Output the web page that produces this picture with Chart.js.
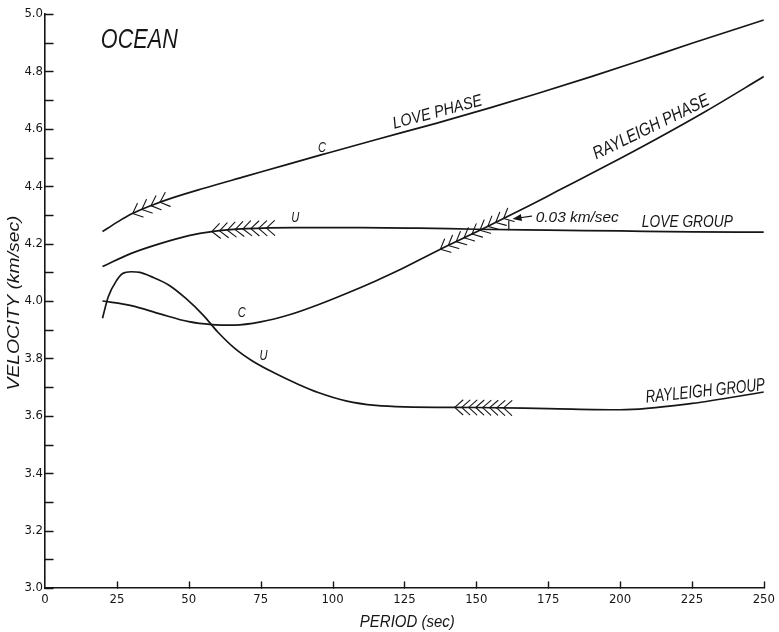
<!DOCTYPE html>
<html>
<head>
<meta charset="utf-8">
<script src="https://cdn.jsdelivr.net/npm/chart.js@4.4.1/dist/chart.umd.min.js"></script>
<style>
html,body{margin:0;padding:0;background:#fff;}
#wrap{width:779px;height:632px;position:relative;}
canvas{display:block;}
</style>
</head>
<body>
<div id="wrap"><canvas id="c" width="779" height="632" style="width:779px;height:632px"></canvas></div>
<script>
// ---- Data (period in sec, velocity in km/sec) ----
const seriesNames = ['LOVE PHASE', 'LOVE GROUP', 'RAYLEIGH PHASE', 'RAYLEIGH GROUP'];

const lovePhasePeriod = [20, 25, 30, 37, 43, 55, 70, 85, 96, 115, 136, 155, 171, 190, 205, 225, 250];
const lovePhaseVel    = [4.242, 4.274, 4.303, 4.333, 4.355, 4.392, 4.435, 4.478, 4.509, 4.562, 4.619, 4.674, 4.722, 4.782, 4.831, 4.898, 4.979];

const loveGroupPeriod = [20, 30, 40, 50, 58, 70, 87, 110, 130, 150, 175, 200, 225, 250];
const loveGroupVel    = [4.120, 4.166, 4.200, 4.228, 4.242, 4.252, 4.256, 4.256, 4.254, 4.250, 4.247, 4.244, 4.241, 4.240];

const rayPhasePeriod = [20, 30, 40, 50, 58, 66, 75, 85, 95, 105, 115, 123, 137, 153, 168, 178, 195, 212, 230, 250];
const rayPhaseVel    = [4.000, 3.984, 3.955, 3.928, 3.918, 3.916, 3.927, 3.952, 3.987, 4.027, 4.070, 4.107, 4.178, 4.255, 4.330, 4.382, 4.470, 4.561, 4.662, 4.782];

const rayGroupPeriod = [20, 22, 25, 27, 30, 33, 37, 43, 49, 55, 60, 66, 72, 80, 88, 95, 105, 115, 125, 150, 175, 200, 225, 250];
const rayGroupVel    = [3.940, 4.015, 4.073, 4.096, 4.102, 4.100, 4.085, 4.056, 4.009, 3.951, 3.893, 3.835, 3.792, 3.748, 3.710, 3.681, 3.651, 3.636, 3.631, 3.629, 3.625, 3.621, 3.643, 3.683];

const xTickLabels = [0, 25, 50, 75, 100, 125, 150, 175, 200, 225, 250];
const yTickLabels = ['3.0', '3.2', '3.4', '3.6', '3.8', '4.0', '4.2', '4.4', '4.6', '4.8', '5.0'];

// fletching (hatch) groups along curves: series index, period range, count
const hatchSeries = [0, 1, 2, 3];
const hatchFrom   = [30.5, 58, 137.5, 142.5];
const hatchTo     = [40, 77, 159.5, 159.5];
const hatchCount  = [4, 8, 9, 8];

// annotation text (period, velocity anchor)
const noteTexts  = ['OCEAN', 'LOVE PHASE', 'C', 'U', 'RAYLEIGH PHASE', '0.03 km/sec', 'LOVE GROUP', 'C', 'U', 'RAYLEIGH GROUP'];
const notePeriod = [32.8, 136.4, 96.3, 87.0, 210.6, 185.1, 223.4, 68.4, 76.0, 229.6];
const noteVel    = [4.915, 4.662, 4.540, 4.293, 4.610, 4.296, 4.279, 3.962, 3.815, 3.690];
const noteWidth  = [77, 92, 8, 8, 127, 83, 91, 8, 8, 120];
const noteCapH   = [20, 12, 11, 11, 13, 11, 12, 11, 11, 13];
const noteAngle  = [0, -15, 0, 0, -26, 0, 0, 0, 0, -6];

// 0.03 km/sec difference marker and arrow
const diffMarkPeriod = 161.3;
const diffMarkVel = [4.249, 4.279];
const arrowTail = [169.2, 4.296];
const arrowTip  = [162.6, 4.286];

const xTitle = 'PERIOD (sec)';
const yTitle = 'VELOCITY (km/sec)';

// ---- helpers ----
const INK = '#161616';
const allT = [lovePhasePeriod, loveGroupPeriod, rayPhasePeriod, rayGroupPeriod];
const allV = [lovePhaseVel, loveGroupVel, rayPhaseVel, rayGroupVel];

function interp(T, V, t) {
  if (t <= T[0]) return V[0];
  for (let i = 1; i < T.length; i++) {
    if (t <= T[i]) {
      const f = (t - T[i-1]) / (T[i] - T[i-1]);
      return V[i-1] + f * (V[i] - V[i-1]);
    }
  }
  return V[V.length-1];
}

function fitText(ctx, txt, cx, cy, w, capH, angDeg) {
  const fs = capH / 0.72;
  ctx.save();
  ctx.font = 'italic ' + fs.toFixed(1) + 'px "Liberation Sans", Arial, sans-serif';
  const m = ctx.measureText(txt).width;
  ctx.translate(cx, cy);
  ctx.rotate(angDeg * Math.PI / 180);
  ctx.scale(w / m, 1);
  ctx.textAlign = 'center';
  ctx.textBaseline = 'alphabetic';
  ctx.fillStyle = INK;
  ctx.fillText(txt, 0, capH / 2);
  ctx.restore();
}

const decorPlugin = {
  id: 'decor',
  afterDraw(chart) {
    const ctx = chart.ctx;
    const xs = chart.scales.x, ys = chart.scales.y;
    const area = chart.chartArea;
    const px = t => xs.getPixelForValue(t);
    const py = v => ys.getPixelForValue(v);

    ctx.save();
    ctx.strokeStyle = INK;
    ctx.fillStyle = INK;
    ctx.lineCap = 'round';

    // inward tick marks
    ctx.lineWidth = 1.4;
    ys.ticks.forEach(tk => {
      const y = Math.round(py(tk.value)) + 0.5;
      ctx.beginPath(); ctx.moveTo(area.left, y); ctx.lineTo(area.left + 8, y); ctx.stroke();
    });
    xs.ticks.forEach(tk => {
      if (tk.value === 0) return;
      const x = Math.round(px(tk.value)) + 0.5;
      ctx.beginPath(); ctx.moveTo(x, area.bottom); ctx.lineTo(x, area.bottom - 6); ctx.stroke();
    });

    // fletching chevrons
    ctx.lineWidth = 1.1;
    const L = 11, a = 42 * Math.PI / 180;
    for (let h = 0; h < hatchSeries.length; h++) {
      const T = allT[hatchSeries[h]], V = allV[hatchSeries[h]];
      const n = hatchCount[h];
      for (let k = 0; k < n; k++) {
        const t = hatchFrom[h] + (hatchTo[h] - hatchFrom[h]) * k / (n - 1);
        const x0 = px(t), y0 = py(interp(T, V, t));
        const x1 = px(t + 1), y1 = py(interp(T, V, t + 1));
        const ang = Math.atan2(y1 - y0, x1 - x0);
        [ang - a, ang + a].forEach(aa => {
          ctx.beginPath();
          ctx.moveTo(x0, y0);
          ctx.lineTo(x0 + L * Math.cos(aa), y0 + L * Math.sin(aa));
          ctx.stroke();
        });
      }
    }

    // 0.03 km/sec marker
    ctx.lineWidth = 1.2;
    ctx.beginPath();
    ctx.moveTo(px(diffMarkPeriod), py(diffMarkVel[0]));
    ctx.lineTo(px(diffMarkPeriod), py(diffMarkVel[1]));
    ctx.stroke();
    const tx = px(arrowTail[0]), ty = py(arrowTail[1]);
    const hx = px(arrowTip[0]), hy = py(arrowTip[1]);
    let ax = hx - tx, ay = hy - ty; const al = Math.hypot(ax, ay); ax /= al; ay /= al;
    ctx.beginPath(); ctx.moveTo(tx, ty); ctx.lineTo(hx - ax * 6, hy - ay * 6); ctx.stroke();
    ctx.beginPath();
    ctx.moveTo(hx, hy);
    ctx.lineTo(hx - ax * 9 - ay * 3.5, hy - ay * 9 + ax * 3.5);
    ctx.lineTo(hx - ax * 9 + ay * 3.5, hy - ay * 9 - ax * 3.5);
    ctx.closePath(); ctx.fill();

    // annotation text
    for (let i = 0; i < noteTexts.length; i++) {
      fitText(ctx, noteTexts[i], px(notePeriod[i]), py(noteVel[i]), noteWidth[i], noteCapH[i], noteAngle[i]);
    }
    // axis titles
    fitText(ctx, xTitle, px(126), area.bottom + 33, 95, 12, 0);
    fitText(ctx, yTitle, 12.5, py(4.0) + 2, 175, 12, -90);
    ctx.restore();
  }
};

const mk = (T, V) => T.map((t, i) => ({ x: t, y: V[i] }));
const datasets = allT.map((T, i) => ({
  label: seriesNames[i],
  data: mk(T, allV[i]),
  borderColor: INK,
  borderWidth: 1.7,
  pointRadius: 0,
  fill: false,
  cubicInterpolationMode: 'monotone'
}));

const tickFont = { family: '"Liberation Sans Narrow", "DejaVu Sans Condensed", "Arial Narrow", sans-serif', size: 13 };

new Chart(document.getElementById('c'), {
  type: 'line',
  data: { datasets },
  options: {
    responsive: false,
    animation: false,
    devicePixelRatio: 1,
    layout: { padding: { top: 14, right: 10, left: 0, bottom: 0 } },
    plugins: { legend: { display: false }, tooltip: { enabled: false }, title: { display: false } },
    scales: {
      x: {
        type: 'linear', min: 0, max: 250,
        afterBuildTicks: s => { s.ticks = xTickLabels.map(v => ({ value: v })); },
        ticks: { font: tickFont, color: INK, padding: 4, maxRotation: 0, autoSkip: false,
                 callback: v => String(v) },
        grid: { display: true, drawOnChartArea: false, drawTicks: false },
        border: { display: true, color: INK, width: 1.6 },
        afterFit: s => { s.height = 44; }
      },
      y: {
        type: 'linear', min: 3, max: 5,
        ticks: { stepSize: 0.1, font: tickFont, color: INK, padding: 2, autoSkip: false,
                 callback: v => { const k = Math.round(v * 10); return k % 2 === 0 ? yTickLabels[(k - 30) / 2] : ''; } },
        grid: { display: true, drawOnChartArea: false, drawTicks: false },
        border: { display: true, color: INK, width: 1.6 },
        afterFit: s => { s.width = 45; }
      }
    }
  },
  plugins: [decorPlugin]
});
</script>
</body>
</html>
